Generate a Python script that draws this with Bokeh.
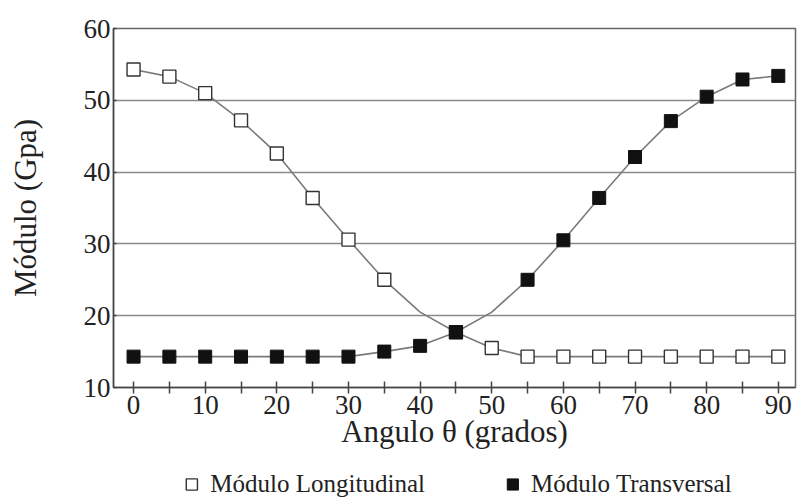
from bokeh.plotting import figure
from bokeh.layouts import column
from bokeh.models import Range1d, Legend, LegendItem, FixedTicker, ColumnDataSource
from bokeh.embed import file_html
from bokeh.resources import INLINE

# ---- data ----
angles = [0, 5, 10, 15, 20, 25, 30, 35, 40, 45, 50, 55, 60, 65, 70, 75, 80, 85, 90]
long_vals = [54.3, 53.3, 51.0, 47.2, 42.6, 36.4, 30.6, 25.0, 20.5, 17.7, 15.5,
             14.3, 14.3, 14.3, 14.3, 14.3, 14.3, 14.3, 14.3]
trans_vals = [14.3, 14.3, 14.3, 14.3, 14.3, 14.3, 14.3, 15.0, 15.8, 17.7, 20.5,
              25.0, 30.5, 36.4, 42.1, 47.1, 50.5, 52.9, 53.4]
# points that carry a marker in the reference (40° longitudinal and 50° transversal have none)
long_marked = [a != 40 for a in angles]
trans_marked = [a != 50 for a in angles]
x_ticks = [0, 10, 20, 30, 40, 50, 60, 70, 80, 90]
y_ticks = [10, 20, 30, 40, 50, 60]
label_long = "Módulo Longitudinal"
label_trans = "Módulo Transversal"
x_title = "Angulo θ (grados)"
y_title = "Módulo (Gpa)"

FONT = "Liberation Serif"
LINE_C = "#7a7a7a"
OPEN_STYLE = dict(marker="square", fill_color="white", line_color="#333333", line_width=1.4)
FILL_STYLE = dict(marker="square", fill_color="#111111", line_color="#111111", line_width=1)

p = figure(width=797, height=460, output_backend="svg", toolbar_location=None,
           x_range=Range1d(-2.8, 92.4), y_range=Range1d(10, 60),
           min_border_left=113, min_border_right=2, min_border_top=28,
           min_border_bottom=73)
p.background_fill_color = "white"
p.border_fill_color = "white"
p.outline_line_color = "#666666"
p.outline_line_width = 1.5

# lines
p.line(angles, long_vals, line_color=LINE_C, line_width=1.6)
p.line(angles, trans_vals, line_color=LINE_C, line_width=1.6)

lsrc = ColumnDataSource(dict(x=[a for a, m in zip(angles, long_marked) if m],
                             y=[v for v, m in zip(long_vals, long_marked) if m]))
tsrc = ColumnDataSource(dict(x=[a for a, m in zip(angles, trans_marked) if m],
                             y=[v for v, m in zip(trans_vals, trans_marked) if m]))
p.scatter("x", "y", source=lsrc, size=13, **OPEN_STYLE)
p.scatter("x", "y", source=tsrc, size=13, **FILL_STYLE)

# axes
p.xaxis.ticker = FixedTicker(ticks=x_ticks, minor_ticks=[a for a in angles if a % 10 == 5])
p.yaxis.ticker = FixedTicker(ticks=y_ticks)
for ax in (p.xaxis[0], p.yaxis[0]):
    ax.axis_line_color = "#444444"
    ax.axis_line_width = 1.5
    ax.major_tick_line_color = "#444444"
    ax.minor_tick_line_color = "#444444"
    ax.major_tick_line_width = 1.5
    ax.minor_tick_line_width = 1.5
    ax.major_label_text_font = FONT
    ax.major_label_text_font_size = "27px"
    ax.major_label_text_color = "#222222"
    ax.axis_label_text_font = FONT
    ax.axis_label_text_font_size = "31px"
    ax.axis_label_text_font_style = "normal"
    ax.axis_label_text_color = "#222222"

p.xaxis.major_tick_in = 6
p.xaxis.major_tick_out = 6
p.xaxis.minor_tick_in = 6
p.xaxis.minor_tick_out = 6
p.xaxis.major_label_standoff = 2
p.xaxis.axis_label = x_title
p.xaxis.axis_label_standoff = -3

p.yaxis.major_tick_in = 3
p.yaxis.major_tick_out = 0
p.yaxis.minor_tick_line_color = None
p.yaxis.major_label_standoff = 3
p.yaxis.axis_label = y_title
p.yaxis.axis_label_standoff = 38

p.xgrid.grid_line_color = None
p.ygrid.grid_line_color = "#8a8a8a"
p.ygrid.grid_line_width = 1.5

# ---- legend strip under the chart ----
# The same series are drawn here with ranges that keep them out of view,
# so only their legend keys show.
leg = figure(width=797, height=38, output_backend="svg", toolbar_location=None,
             x_range=Range1d(1000, 1001), y_range=Range1d(1000, 1001),
             x_axis_location=None, y_axis_location=None, min_border=0)
leg.grid.visible = False
leg.outline_line_color = None
leg.background_fill_color = "white"
leg.border_fill_color = "white"
rl = leg.scatter("x", "y", source=lsrc, size=13, **OPEN_STYLE)
rt = leg.scatter("x", "y", source=tsrc, size=13, **FILL_STYLE)
legend = Legend(items=[LegendItem(label=label_long, renderers=[rl]),
                       LegendItem(label=label_trans, renderers=[rt])],
                orientation="horizontal", location="bottom",
                label_text_font=FONT, label_text_font_size="25px",
                label_text_color="#222222",
                border_line_color=None, background_fill_alpha=0,
                glyph_width=30, glyph_height=28, spacing=72,
                label_standoff=4, padding=0, margin=0)
leg.add_layout(legend, "center")

layout = column(p, leg, spacing=0)
open("out.html", "w").write(file_html(layout, INLINE))
